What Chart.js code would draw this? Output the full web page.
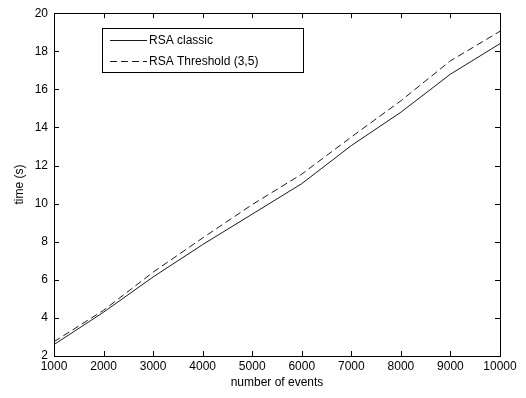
<!DOCTYPE html>
<html>
<head>
<meta charset="utf-8">
<script src="https://cdn.jsdelivr.net/npm/chart.js@4"></script>
<style>
  html, body { margin: 0; padding: 0; background: #fff; }
  #wrap { width: 526px; height: 398px; }
</style>
</head>
<body>
<div id="wrap"><canvas id="c" width="526" height="398"></canvas></div>
<script>
const events = [1000, 2000, 3000, 4000, 5000, 6000, 7000, 8000, 9000, 10000];
const rsaClassic = [2.6, 4.3, 6.15, 7.85, 9.45, 11.05, 13.05, 14.8, 16.8, 18.4];
const rsaThreshold = [2.75, 4.4, 6.4, 8.2, 9.95, 11.55, 13.5, 15.4, 17.5, 19.05];
const yTicks = [2, 4, 6, 8, 10, 12, 14, 16, 18, 20];

const FONT = '"Liberation Sans", Arial, sans-serif';

// matlab style frame: box + inward ticks on all four sides
const frame = {
  id: 'frame',
  afterDraw(chart) {
    const ctx = chart.ctx, a = chart.chartArea;
    const xs = chart.scales.x, ys = chart.scales.y;
    ctx.save();
    ctx.strokeStyle = '#000';
    ctx.lineWidth = 1;
    ctx.strokeRect(Math.round(a.left) + 0.5, Math.round(a.top) + 0.5,
      Math.round(a.right - a.left), Math.round(a.bottom - a.top));
    ctx.beginPath();
    events.forEach(v => {
      const px = Math.round(xs.getPixelForValue(v)) + 0.5;
      ctx.moveTo(px, a.bottom); ctx.lineTo(px, a.bottom - 5);
      ctx.moveTo(px, a.top); ctx.lineTo(px, a.top + 5);
    });
    yTicks.forEach(v => {
      const py = Math.round(ys.getPixelForValue(v)) + 0.5;
      ctx.moveTo(a.left, py); ctx.lineTo(a.left + 5, py);
      ctx.moveTo(a.right, py); ctx.lineTo(a.right - 5, py);
    });
    ctx.stroke();

    // legend box
    const bx = 102.5, by = 28.5, bw = 201, bh = 44;
    ctx.fillStyle = '#fff';
    ctx.fillRect(bx, by, bw, bh);
    ctx.strokeRect(bx, by, bw, bh);
    ctx.font = '12px ' + FONT;
    ctx.textBaseline = 'middle';
    ctx.fillStyle = '#000';
    chart.data.datasets.forEach((ds, i) => {
      const y = 40.5 + i * 21;
      ctx.beginPath();
      ctx.setLineDash(ds.borderDash || []);
      ctx.strokeStyle = ds.borderColor;
      ctx.moveTo(110, y); ctx.lineTo(147, y);
      ctx.stroke();
      ctx.setLineDash([]);
      ctx.fillText(ds.label, 149, y);
    });
    ctx.restore();
  }
};

new Chart(document.getElementById('c'), {
  type: 'line',
  data: {
    datasets: [
      {
        label: 'RSA classic',
        data: events.map((x, i) => ({ x: x, y: rsaClassic[i] })),
        borderColor: '#1a1a1a',
        borderWidth: 1,
        pointRadius: 0,
        tension: 0
      },
      {
        label: 'RSA Threshold (3,5)',
        data: events.map((x, i) => ({ x: x, y: rsaThreshold[i] })),
        borderColor: '#1a1a1a',
        borderWidth: 1,
        borderDash: [7, 4],
        pointRadius: 0,
        tension: 0
      }
    ]
  },
  options: {
    responsive: false,
    animation: false,
    layout: { padding: { top: 10, right: 26, left: 0, bottom: 0 } },
    plugins: { legend: { display: false }, tooltip: { enabled: false } },
    scales: {
      x: {
        type: 'linear',
        min: 1000, max: 10000,
        afterBuildTicks: s => { s.ticks = events.map(v => ({ value: v })); },
        afterFit: s => { s.height = 42; },
        grid: { display: false, drawTicks: false },
        border: { display: false },
        ticks: { color: '#000', font: { family: FONT, size: 12 }, padding: 3, maxRotation: 0, autoSkip: false,
          callback: v => String(v) },
        title: { display: true, text: 'number of events', color: '#000',
          font: { family: FONT, size: 12 }, padding: { top: 0, bottom: 8 } }
      },
      y: {
        min: 2, max: 20,
        afterBuildTicks: s => { s.ticks = yTicks.map(v => ({ value: v })); },
        afterFit: s => { s.width = 54; },
        grid: { display: false, drawTicks: false },
        border: { display: false },
        ticks: { color: '#000', font: { family: FONT, size: 12 }, padding: 6,
          callback: v => String(v) },
        title: { display: true, text: 'time (s)', color: '#000',
          font: { family: FONT, size: 12 }, padding: { top: 12, bottom: 0 } }
      }
    }
  },
  plugins: [frame]
});
</script>
</body>
</html>
